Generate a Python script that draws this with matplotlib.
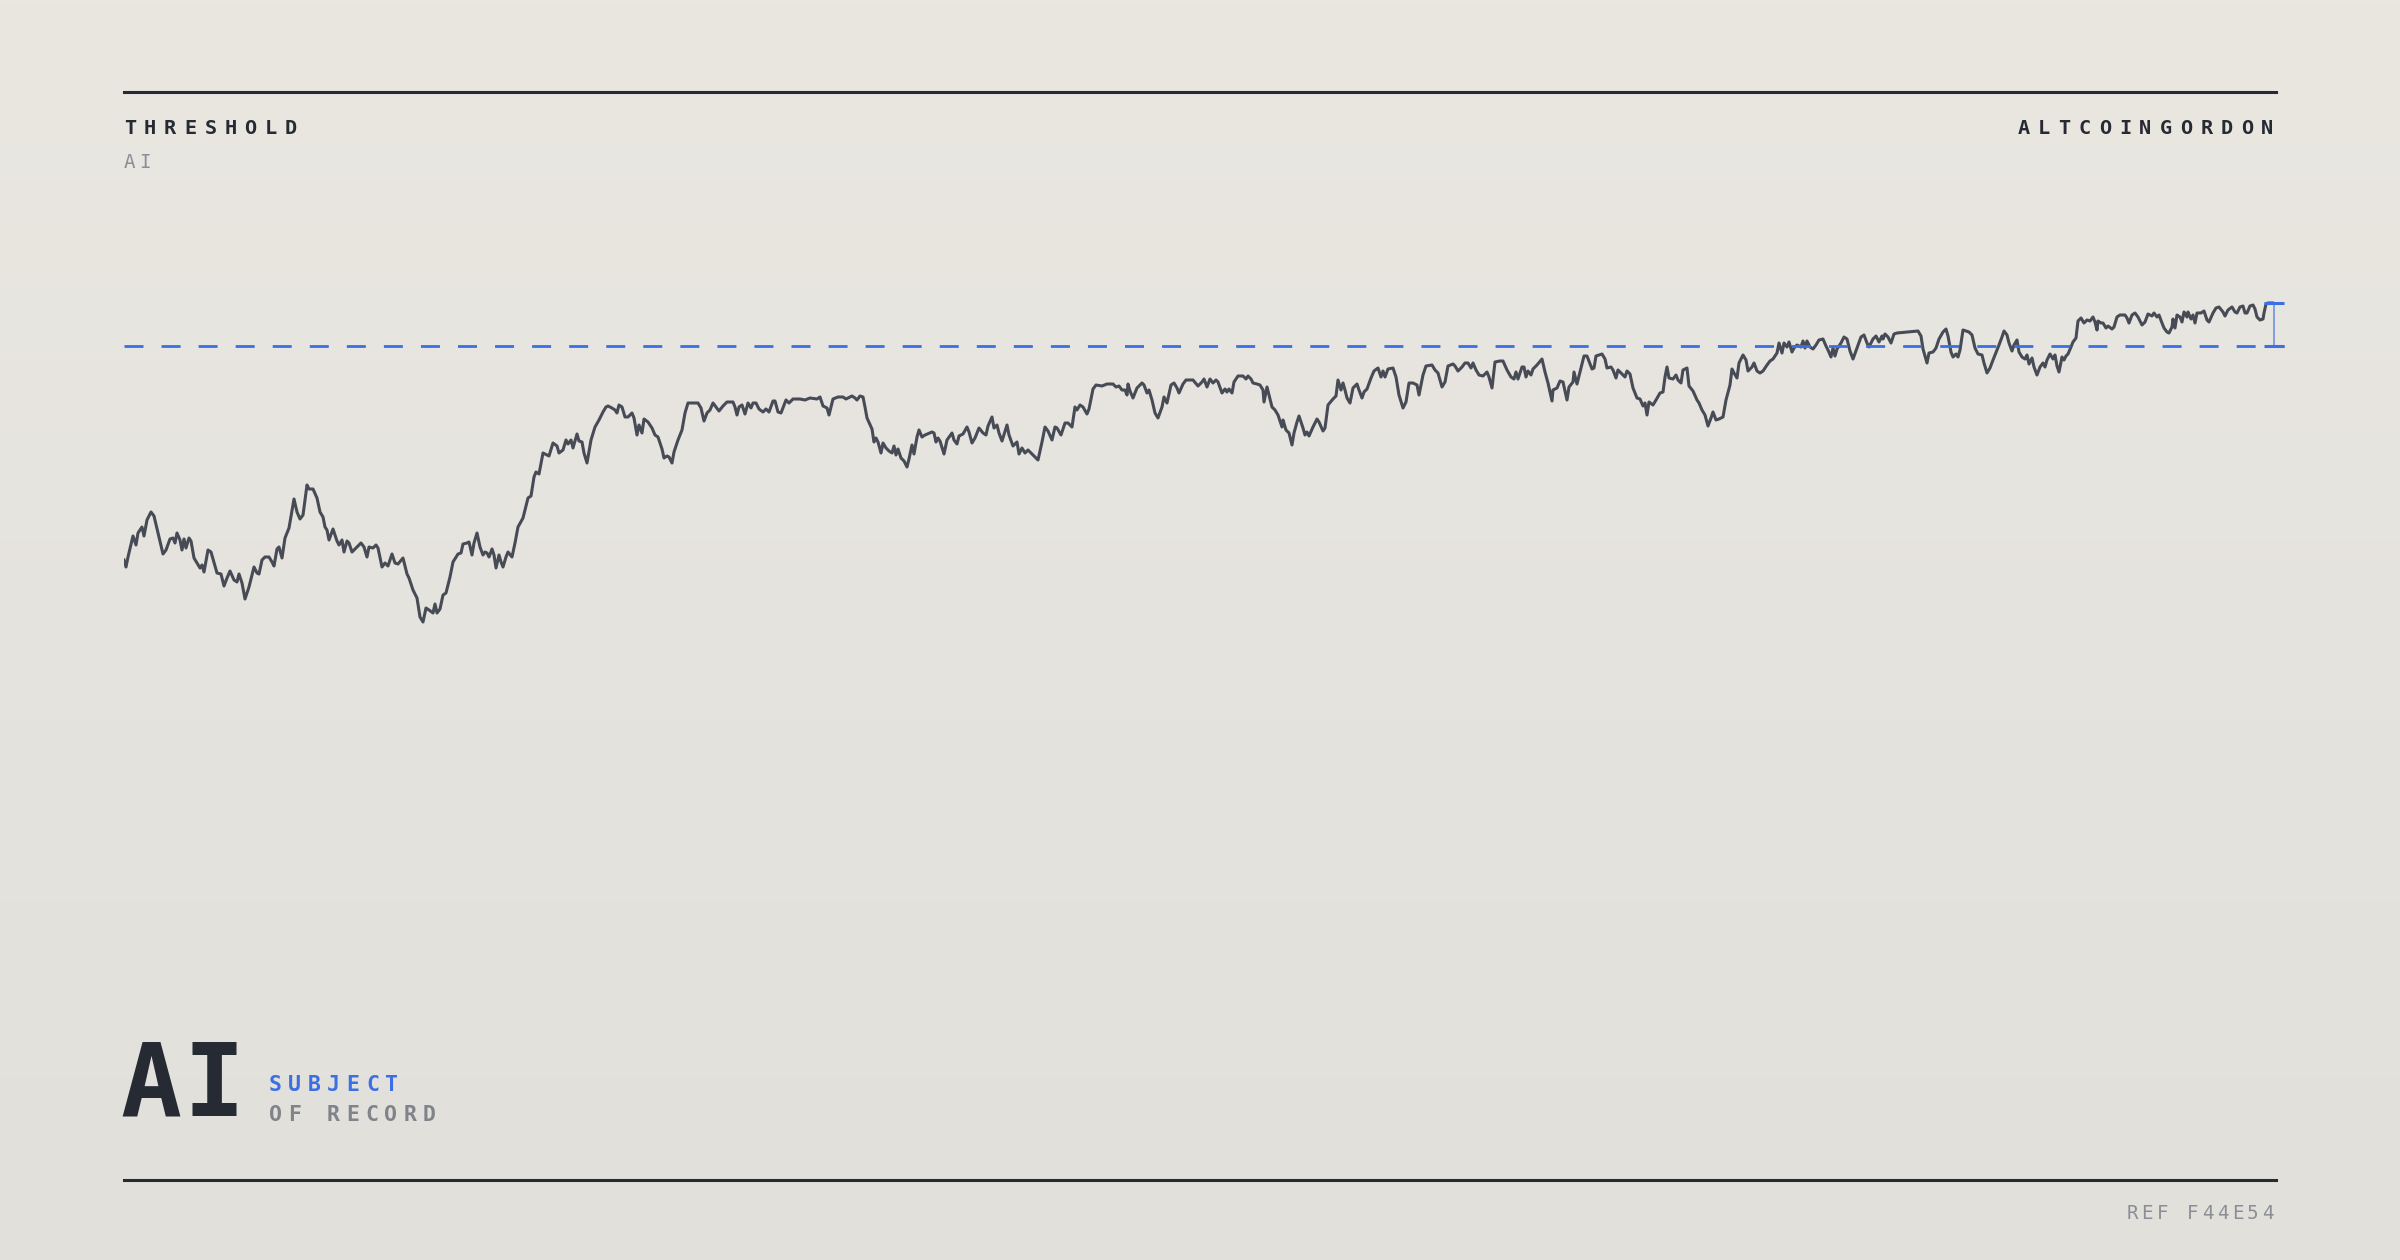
import numpy as np
import matplotlib.pyplot as plt
from matplotlib.lines import Line2D
from matplotlib.colors import LinearSegmentedColormap

# sample index and score
step = [
    0, 2, 4, 9, 12, 14, 18, 20, 23, 27,
    30, 34, 39, 42, 46, 49, 51, 53, 56, 58,
    60, 62, 65, 67, 70, 73, 76, 78, 80, 84,
    87, 93, 97, 100, 103, 106, 110, 113, 115, 118,
    121, 125, 130, 133, 135, 138, 141, 145, 148, 150,
    153, 155, 158, 161, 165, 170, 173, 176, 179, 183,
    185, 189, 193, 196, 199, 201, 203, 205, 209, 213,
    215, 218, 220, 223, 225, 228, 233, 237, 240, 243,
    245, 249, 252, 254, 258, 261, 264, 268, 271, 274,
    279, 283, 285, 289, 293, 296, 299, 302, 305, 309,
    311, 313, 316, 319, 322, 326, 329, 334, 337, 339,
    343, 345, 348, 350, 353, 356,
    359, 361, 363, 365, 368, 370, 372, 375, 377, 379,
    382, 384, 388, 391, 394, 399, 404, 407, 410, 412,
    415, 419, 423, 425, 429, 433, 435, 439, 442, 444,
    447, 449, 453, 455, 458, 460, 463, 467, 471, 475,
    479, 482, 484, 488, 491, 493, 495, 498, 501, 504,
    508, 510, 513, 515, 518, 520, 524, 528, 531, 534,
    538, 540, 543, 545, 548, 550, 554, 558, 561, 564,
    569, 574, 577, 580, 583, 586, 589, 592, 595, 599,
    603, 609, 611, 613, 615, 618, 621, 624, 627, 629,
    632, 635, 639, 642, 645, 649, 651, 654, 657, 662,
    665, 669, 676, 681, 686, 693, 696, 699, 703, 705,
    709, 714, 719, 722, 728, 731,
    733, 736, 739, 741, 743, 748, 750, 752, 754, 757,
    759, 762, 765, 768, 770, 772, 774, 777, 780, 783,
    785, 788, 790, 793, 795, 798, 801, 808, 810, 812,
    814, 816, 820, 823, 828, 830, 833, 835, 839, 843,
    845, 848, 851, 855, 859, 862, 864, 868, 870, 873,
    875, 878, 883, 885, 889, 893, 895, 898, 901, 904,
    908, 911, 914, 918, 921, 924, 928, 931, 933, 937,
    941, 944, 948, 951, 953, 956, 959, 963, 965, 969,
    972, 978, 983, 989, 992, 995, 998, 1001, 1003, 1004,
    1006, 1009, 1013, 1018, 1020, 1023, 1025, 1028, 1031, 1034,
    1038, 1040, 1043, 1047, 1050, 1053, 1055, 1059, 1062, 1069,
    1074, 1078, 1080, 1083, 1086, 1089, 1092, 1094,
    1098, 1101, 1103, 1105, 1108, 1110, 1114, 1119, 1122, 1124,
    1127, 1129, 1133, 1136, 1139, 1140, 1143, 1145, 1148, 1151,
    1154, 1158, 1159, 1162, 1165, 1168, 1170, 1173, 1175, 1179,
    1181, 1183, 1185, 1189, 1193, 1195, 1199, 1201, 1204, 1209,
    1212, 1214, 1217, 1219, 1221, 1223, 1226, 1229, 1233, 1235,
    1238, 1240, 1243, 1247, 1250, 1254, 1257, 1259, 1261, 1264,
    1269, 1272, 1275, 1279, 1282, 1285, 1289, 1293, 1295, 1299,
    1302, 1308, 1311, 1314, 1318, 1321, 1324, 1329, 1331, 1334,
    1338, 1341, 1344, 1347, 1349, 1352, 1355, 1359, 1363, 1365,
    1368, 1371, 1376, 1379, 1383, 1387, 1390, 1392, 1394, 1398,
    1400, 1402, 1404, 1407, 1409, 1413, 1418, 1421, 1424, 1428,
    1429, 1433, 1436, 1439, 1443, 1445, 1449, 1450, 1453, 1456,
    1460, 1463, 1468, 1470,
    1472, 1478, 1481, 1483, 1487, 1489, 1492, 1494, 1498, 1501,
    1503, 1506, 1509, 1513, 1516, 1519, 1521, 1523, 1525, 1529,
    1532, 1536, 1539, 1541, 1543, 1545, 1549, 1552, 1554, 1557,
    1559, 1563, 1565, 1569, 1573, 1575, 1578, 1581, 1584, 1587,
    1589, 1592, 1595, 1599, 1602, 1606, 1608, 1610, 1613, 1615,
    1619, 1622, 1624, 1628, 1630, 1633, 1636, 1639, 1643, 1646,
    1649, 1651, 1653, 1655, 1658, 1660, 1663, 1665, 1668, 1670,
    1673, 1677, 1679, 1681, 1683, 1686, 1689, 1692, 1695, 1699,
    1702, 1704, 1707, 1709, 1711, 1713, 1717, 1720, 1723, 1726,
    1729, 1733, 1737, 1740, 1743, 1745, 1749, 1752, 1755, 1758,
    1759, 1761, 1764, 1767, 1770, 1773, 1783, 1794, 1797, 1799,
    1803, 1805, 1809, 1812, 1815, 1819, 1822, 1824, 1827, 1829,
    1832, 1834, 1836, 1839, 1842, 1845,
    1848, 1851, 1854, 1858, 1860, 1863, 1866, 1869, 1873, 1875,
    1878, 1880, 1883, 1885, 1888, 1890, 1893, 1895, 1898, 1901,
    1903, 1905, 1908, 1910, 1913, 1916, 1919, 1921, 1923, 1926,
    1929, 1931, 1933, 1935, 1938, 1940, 1942, 1944, 1947, 1949,
    1952, 1954, 1957, 1960, 1963, 1966, 1969, 1971, 1973, 1974,
    1977, 1979, 1982, 1984, 1988, 1990, 1993, 1996, 2001, 2003,
    2005, 2008, 2011, 2014, 2018, 2021, 2024, 2028, 2030, 2033,
    2035, 2038, 2040, 2043, 2045, 2048, 2049, 2051, 2053, 2056,
    2058, 2060, 2063, 2064, 2067, 2069, 2071, 2073, 2077, 2080,
    2083, 2085, 2089, 2092, 2095, 2099, 2101, 2104, 2108, 2111,
    2113, 2116, 2119, 2121, 2123, 2126, 2129, 2131, 2133, 2136,
    2139, 2140, 2142, 2144, 2150,
]

score = [
    44.0, 43.3, 44.3, 46.4, 45.5, 46.7, 47.3, 46.4, 48.0, 48.8,
    48.4, 46.7, 44.6, 45.0, 46.1, 46.2, 45.7, 46.7, 46.0, 45.0,
    46.1, 45.2, 46.2, 45.9, 44.2, 43.7, 43.2, 43.5, 42.8, 45.0,
    44.8, 42.7, 42.6, 41.4, 42.2, 42.9, 42.0, 41.8, 42.6, 41.7,
    40.1, 41.3, 43.3, 42.7, 42.6, 44.0, 44.3, 44.3, 43.8, 43.4,
    45.1, 45.3, 44.2, 46.2, 47.2, 50.1, 48.8, 48.1, 48.5, 51.5,
    51.1, 51.1, 50.2, 48.8, 48.3, 47.3, 47.0, 46.0, 47.1, 45.9,
    45.5, 46.0, 44.8, 45.9, 45.7, 44.8, 45.3, 45.7, 45.3, 44.3,
    45.3, 45.2, 45.5, 45.2, 43.3, 43.7, 43.4, 44.6, 43.7, 43.6,
    44.2, 42.6, 42.2, 41.0, 40.2, 38.3, 37.8, 39.2, 39.0, 38.7,
    39.6, 38.7, 39.1, 40.5, 40.7, 42.3, 43.8, 44.6, 44.7, 45.6,
    45.7, 45.8, 44.5, 45.7, 46.7, 45.3,
    44.5, 44.8, 44.7, 44.3, 45.1, 44.5, 43.2, 44.5, 43.8, 43.3,
    44.3, 44.8, 44.3, 45.7, 47.3, 48.2, 50.2, 50.4, 52.3, 52.8,
    52.6, 54.7, 54.5, 54.4, 55.7, 55.4, 54.7, 55.0, 56.0, 55.6,
    56.0, 55.2, 56.6, 55.9, 55.8, 54.7, 53.7, 56.0, 57.3, 58.0,
    58.8, 59.3, 59.4, 59.2, 59.0, 58.7, 59.5, 59.3, 58.3, 58.3,
    58.7, 58.2, 56.5, 57.5, 56.7, 58.1, 57.8, 57.2, 56.5, 56.3,
    55.1, 54.2, 54.4, 54.3, 53.7, 54.8, 56.0, 57.0, 58.7, 59.7,
    59.7, 59.7, 59.2, 57.9, 58.7, 59.0, 59.7, 59.3, 58.9, 59.4,
    59.8, 59.8, 59.3, 58.5, 59.3, 59.5, 58.6, 59.7, 59.2, 59.7,
    59.7, 59.1, 58.8, 59.1, 58.8, 59.9, 59.9, 58.8, 58.7, 60.0,
    59.7, 60.1, 60.1, 60.0, 60.2, 60.1, 60.3, 59.4, 59.2, 58.5,
    60.1, 60.3, 60.3, 60.1, 60.4, 60.2,
    60.0, 60.4, 60.3, 59.3, 58.2, 57.1, 55.8, 56.2, 55.8, 54.7,
    55.7, 55.2, 54.9, 54.7, 55.4, 54.5, 55.1, 54.2, 53.9, 53.3,
    54.1, 55.5, 54.6, 56.3, 57.0, 56.3, 56.5, 56.8, 56.7, 55.8,
    56.2, 55.9, 54.6, 56.0, 56.7, 56.0, 55.6, 56.4, 56.6, 57.3,
    56.8, 55.7, 56.2, 57.2, 56.7, 56.5, 57.4, 58.3, 57.2, 57.5,
    56.7, 55.9, 57.5, 56.5, 55.4, 55.8, 54.6, 55.2, 54.7, 55.0,
    54.6, 54.3, 54.0, 55.8, 57.3, 56.9, 56.0, 57.3, 57.2, 56.5,
    57.7, 57.7, 57.3, 59.3, 59.0, 59.5, 59.3, 58.6, 59.1, 61.1,
    61.5, 61.4, 61.6, 61.6, 61.3, 61.4, 61.0, 61.0, 60.5, 61.6,
    60.9, 60.2, 61.2, 61.7, 61.5, 60.7, 61.0, 60.0, 58.7, 58.2,
    59.3, 60.3, 59.7, 61.5, 61.7, 61.2, 60.7, 61.6, 62.0, 62.0,
    61.4, 61.8, 62.1, 61.3, 62.1, 61.7, 62.0, 61.8,
    60.7, 61.1, 60.8, 61.1, 60.7, 61.8, 62.4, 62.4, 62.1, 62.4,
    62.1, 61.7, 61.6, 61.5, 61.0, 59.8, 61.3, 60.5, 59.3, 59.0,
    58.5, 57.3, 58.0, 57.0, 56.7, 55.5, 56.7, 57.8, 58.4, 57.2,
    56.5, 56.8, 56.4, 57.3, 58.1, 57.8, 56.9, 57.2, 59.5, 60.1,
    60.4, 62.0, 61.0, 61.7, 61.0, 60.2, 59.7, 61.2, 61.6, 61.0,
    60.2, 60.8, 61.1, 62.2, 62.9, 63.2, 62.3, 62.9, 62.3, 63.1,
    63.2, 62.3, 60.5, 59.2, 59.8, 61.7, 61.7, 61.5, 60.5, 62.5,
    63.4, 63.5, 63.0, 62.7, 61.3, 61.8, 63.4, 63.6, 63.4, 62.9,
    63.3, 63.7, 63.7, 63.2, 63.7, 63.0, 62.5, 62.4, 62.8, 62.3,
    61.2, 63.8, 63.9, 63.9, 63.0, 62.3, 62.1, 62.8, 62.1, 63.3,
    63.3, 62.3, 62.9, 62.5, 63.1, 63.5, 64.1, 62.8, 61.7, 59.9,
    61.0, 61.2, 61.9, 61.8, 60.0, 61.3, 61.8, 62.8, 61.6, 62.8,
    64.4, 64.4, 63.1, 63.2,
    64.4, 64.6, 64.1, 63.2, 63.3, 63.0, 62.2, 63.0, 62.6, 62.3,
    62.9, 62.6, 61.2, 60.2, 60.1, 59.4, 59.7, 58.5, 59.8, 59.5,
    60.0, 60.7, 60.8, 62.3, 63.3, 62.2, 62.1, 62.5, 62.0, 61.7,
    63.0, 63.2, 61.4, 60.9, 60.0, 59.7, 59.0, 58.5, 57.4, 58.2,
    58.8, 58.0, 58.1, 58.3, 60.0, 61.5, 63.1, 62.7, 62.2, 63.7,
    64.5, 64.0, 62.9, 63.3, 63.7, 62.9, 62.7, 62.9, 63.5, 63.9,
    64.1, 64.4, 64.7, 65.7, 64.7, 65.7, 65.3, 65.8, 64.8, 65.2,
    65.5, 65.3, 65.9, 65.2, 65.9, 65.3, 65.1, 65.5, 66.0, 66.1,
    65.4, 65.0, 64.3, 65.2, 64.4, 65.1, 65.7, 66.3, 66.1, 64.9,
    64.1, 65.2, 66.3, 66.5, 65.7, 65.3, 66.1, 66.4, 65.8, 66.4,
    66.1, 66.6, 66.3, 65.7, 66.6, 66.7, 66.8, 66.9, 66.4, 65.1,
    63.7, 64.7, 64.8, 65.2, 66.1, 66.8, 67.1, 66.4, 64.8, 64.3,
    64.6, 64.3, 65.0, 67.0, 66.9, 66.8,
    66.5, 65.2, 64.6, 64.5, 63.7, 62.7, 63.2, 64.0, 65.0, 65.5,
    66.3, 66.9, 66.5, 65.7, 64.9, 65.5, 66.0, 64.8, 64.3, 64.1,
    64.5, 63.6, 64.2, 63.3, 62.5, 63.3, 63.7, 63.3, 64.0, 64.6,
    64.1, 64.5, 63.4, 62.8, 64.3, 64.0, 64.4, 64.6, 65.3, 65.8,
    66.2, 67.9, 68.2, 67.7, 68.0, 67.9, 68.3, 67.8, 67.0, 67.9,
    67.7, 67.7, 67.2, 67.4, 67.1, 67.3, 68.3, 68.5, 68.5, 68.2,
    67.7, 68.5, 68.7, 68.3, 67.5, 67.8, 68.6, 68.4, 68.7, 68.3,
    68.5, 67.7, 67.2, 66.8, 66.7, 67.3, 68.1, 67.2, 68.5, 68.3,
    67.8, 68.8, 68.3, 68.8, 68.1, 68.5, 67.7, 68.7, 68.7, 68.9,
    68.0, 67.8, 68.7, 69.2, 69.3, 68.8, 68.4, 69.0, 69.3, 68.8,
    68.7, 69.3, 69.4, 68.7, 68.7, 69.4, 69.5, 69.1, 68.3, 68.0,
    68.1, 68.7, 69.6, 69.7, 69.7,
]

threshold = 65.4

title_left = "THRESHOLD"
subtitle_left = "AI"
title_right = "ALTCOINGORDON"
big_label = "AI"
tag_top = "SUBJECT"
tag_bottom = "OF RECORD"
ref_label = "REF F44E54"

assert len(step) == len(score)

# colours
DARK = "#262a33"
LINE = "#474b55"
BLUE = "#3b6fe3"
GRAY = "#8b8e95"
GRAY2 = "#80838a"
MONO = "DejaVu Sans Mono"

W, H, DPI = 2400, 1260, 200
fig = plt.figure(figsize=(W / DPI, H / DPI), dpi=DPI)


def fx(px):
    return px / W


def fy(py):
    return 1 - py / H


def spaced_text(x0, y, text, pitch, **kw):
    # draw letters one by one to get the wide tracking
    for i, ch in enumerate(text):
        if ch == " ":
            continue
        fig.text(fx(x0 + i * pitch), fy(y), ch, ha="center", va="baseline",
                 family=MONO, **kw)


# background gradient
bg = fig.add_axes([0, 0, 1, 1], zorder=-10)
grad = np.linspace(0, 1, 256).reshape(-1, 1)
cmap = LinearSegmentedColormap.from_list("bg", ["#eae7e1", "#e1e0db"])
bg.imshow(grad, aspect="auto", cmap=cmap, extent=[0, 1, 0, 1], origin="upper")
bg.axis("off")

# main plot
ax = fig.add_axes([fx(124), 0, fx(2274) - fx(124), 1])
ax.patch.set_alpha(0)
ax.set_xlim(step[0], step[-1])
ax.set_ylim(-26, 100)
ax.axis("off")

ax.plot(step, score, color=LINE, lw=1.1, solid_joinstyle="round", zorder=2)

cap = 10  # half-width of the end marker caps, in steps
ax.hlines(threshold, step[0], step[-1] + cap, color=BLUE, lw=1.0,
          linestyles=(0, (6.84, 6.5)), zorder=3, clip_on=False)

ax.vlines(step[-1], threshold, score[-1], color=BLUE, lw=0.6, alpha=0.7,
          zorder=4, clip_on=False)
ax.plot([step[-1], step[-1]], [threshold, score[-1]], ls="none", marker="_",
        ms=7.2, mew=1.1, color=BLUE, zorder=4, clip_on=False)

# rules
for yy in (92, 1180):
    fig.add_artist(Line2D([fx(124), fx(2276)], [fy(yy), fy(yy)], color=DARK,
                          lw=1.1, transform=fig.transFigure))

# header text
spaced_text(130, 134, title_left, 20.1, fontsize=7.3, weight="bold", color=DARK)
spaced_text(129.5, 168, subtitle_left, 15, fontsize=6.9, color=GRAY)
spaced_text(2024, 134, title_right, 20.25, fontsize=7.3, weight="bold", color=DARK)

# footer text
spaced_text(151, 1116, big_label, 62.5, fontsize=36.5, weight="bold", color=DARK)
spaced_text(275, 1091, tag_top, 19.5, fontsize=7.75, weight="bold", color=BLUE)
spaced_text(276, 1121, tag_bottom, 19.1, fontsize=7.75, weight="bold", color=GRAY2)
spaced_text(2132, 1219, ref_label, 15.1, fontsize=6.9, color=GRAY)

fig.savefig("out.png", dpi=DPI)
